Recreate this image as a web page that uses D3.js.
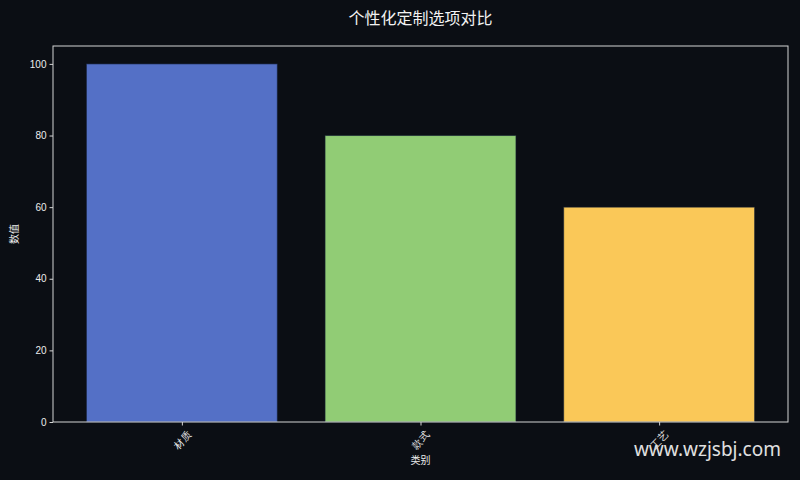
<!DOCTYPE html>
<html>
<head>
<meta charset="utf-8">
<script src="https://cdn.jsdelivr.net/npm/d3@7"></script>
<style>
  body { margin: 0; background: #0b0e14; }
  svg { display: block; font-family: "Liberation Sans", "Noto Sans CJK SC", sans-serif; }
</style>
</head>
<body>
<svg width="800" height="480"></svg>
<script>
// data
var categories = ["材质", "款式", "工艺"];
var values = [100, 80, 60];
var barColors = ["#5470c6", "#91cc75", "#fac858"];
var yTicks = [0, 20, 40, 60, 80, 100];

var svg = d3.select("svg");
var plotLeft = 53, plotRight = 788, plotTop = 46, plotBottom = 422;

svg.append("rect").attr("width", 800).attr("height", 480).attr("fill", "#0b0e14");

// scales (matplotlib-like margins: bars 0.8 wide, 5% padding)
var xScale = d3.scaleLinear().domain([-0.54, 2.54]).range([plotLeft, plotRight]);
var yScale = d3.scaleLinear().domain([0, 105]).range([plotBottom, plotTop]);

// bars
svg.selectAll("rect.bar")
	.data(values)
	.enter()
	.append("rect")
	.attr("class", "bar")
	.attr("x", function(d, i) { return xScale(i - 0.4); })
	.attr("width", function() { return xScale(0.4) - xScale(-0.4); })
	.attr("y", function(d) { return yScale(d); })
	.attr("height", function(d) { return yScale(0) - yScale(d); })
	.attr("fill", function(d, i) { return barColors[i]; })
	.attr("stroke", "rgba(20,30,50,0.6)")
	.attr("stroke-width", 1);

// frame
svg.append("rect")
	.attr("x", plotLeft).attr("y", plotTop)
	.attr("width", plotRight - plotLeft).attr("height", plotBottom - plotTop)
	.attr("fill", "none").attr("stroke", "#d4d4d4").attr("stroke-width", 1);

// y axis
var yAxis = d3.axisLeft(yScale).tickValues(yTicks).tickSize(3.5).tickPadding(3);
var gy = svg.append("g").attr("transform", "translate(" + plotLeft + ",0)").call(yAxis);
gy.select(".domain").remove();
gy.selectAll("line").attr("stroke", "#d4d4d4");
gy.selectAll("text").attr("fill", "#ececec").style("font-size", "10px");

// x axis
var xAxis = d3.axisBottom(xScale)
	.tickValues([0, 1, 2])
	.tickFormat(function(d) { return categories[d]; })
	.tickSize(3.5);
var gx = svg.append("g").attr("transform", "translate(0," + plotBottom + ")").call(xAxis);
gx.select(".domain").remove();
gx.selectAll("line").attr("stroke", "#d4d4d4");
gx.selectAll("text")
	.attr("fill", "#ececec")
	.style("font-size", "10px")
	.attr("y", 0).attr("dy", "0.35em")
	.attr("text-anchor", "middle")
	.attr("transform", "translate(0,18) rotate(-45)");

// labels
svg.append("text")
	.attr("x", (plotLeft + plotRight) / 2).attr("y", 464)
	.attr("text-anchor", "middle")
	.attr("fill", "#ececec").style("font-size", "10px")
	.text("类别");

svg.append("text")
	.attr("transform", "translate(18," + ((plotTop + plotBottom) / 2) + ") rotate(-90)")
	.attr("text-anchor", "middle")
	.attr("fill", "#ececec").style("font-size", "10px")
	.text("数值");

svg.append("text")
	.attr("x", (plotLeft + plotRight) / 2).attr("y", 24)
	.attr("text-anchor", "middle")
	.attr("fill", "#f2f2f2").style("font-size", "16px")
	.text("个性化定制选项对比");

// watermark
svg.append("text")
	.attr("x", 781).attr("y", 456)
	.attr("text-anchor", "end")
	.attr("fill", "#e0e0e0")
	.style("font-family", "'Noto Sans', sans-serif")
	.style("font-size", "19px")
	.text("www.wzjsbj.com");
</script>
</body>
</html>
